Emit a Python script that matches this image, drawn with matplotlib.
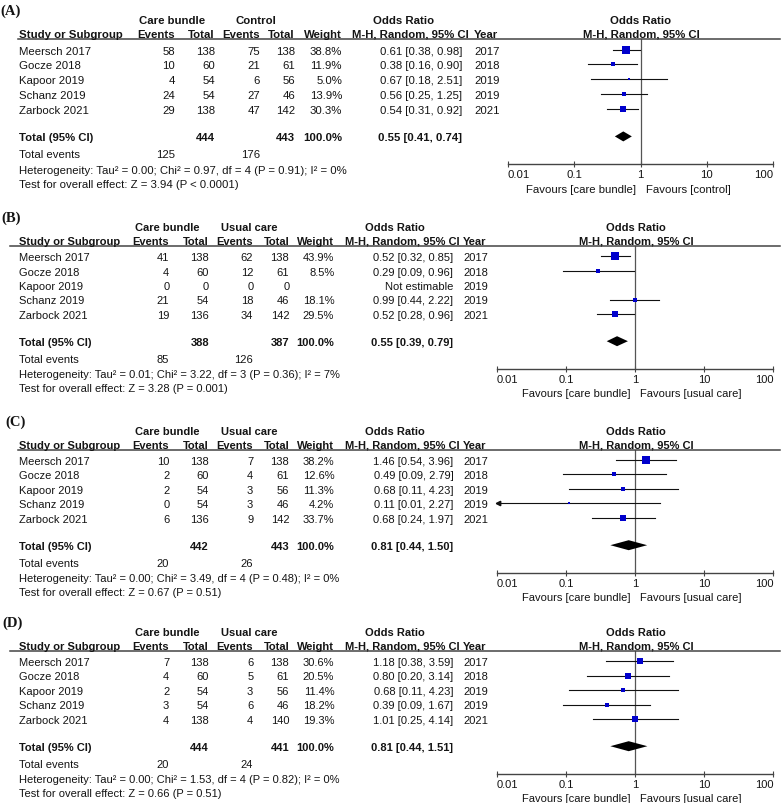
import numpy as np
import matplotlib.pyplot as plt

plt.rcParams['font.family'] = ['Liberation Sans', 'DejaVu Sans']

W, H = 784, 804

# ---- data ----
studies = ['Meersch 2017', 'Gocze 2018', 'Kapoor 2019', 'Schanz 2019', 'Zarbock 2021']
years = [2017, 2018, 2019, 2019, 2021]

# (A)
a_ev_cb = [58, 10, 4, 24, 29]
a_tot_cb = [138, 60, 54, 54, 138]
a_ev_ct = [75, 21, 6, 27, 47]
a_tot_ct = [138, 61, 56, 46, 142]
a_weight = [38.8, 11.9, 5.0, 13.9, 30.3]
a_or = [0.61, 0.38, 0.67, 0.56, 0.54]
a_lo = [0.38, 0.16, 0.18, 0.25, 0.31]
a_hi = [0.98, 0.90, 2.51, 1.25, 0.92]
a_pooled = (0.55, 0.41, 0.74)
a_totals = (444, 443, 125, 176)
a_het = 'Heterogeneity: Tau² = 0.00; Chi² = 0.97, df = 4 (P = 0.91); I² = 0%'
a_test = 'Test for overall effect: Z = 3.94 (P < 0.0001)'

# (B)
b_ev_cb = [41, 4, 0, 21, 19]
b_tot_cb = [138, 60, 0, 54, 136]
b_ev_ct = [62, 12, 0, 18, 34]
b_tot_ct = [138, 61, 0, 46, 142]
b_weight = [43.9, 8.5, None, 18.1, 29.5]
b_or = [0.52, 0.29, None, 0.99, 0.52]
b_lo = [0.32, 0.09, None, 0.44, 0.28]
b_hi = [0.85, 0.96, None, 2.22, 0.96]
b_pooled = (0.55, 0.39, 0.79)
b_totals = (388, 387, 85, 126)
b_het = 'Heterogeneity: Tau² = 0.01; Chi² = 3.22, df = 3 (P = 0.36); I² = 7%'
b_test = 'Test for overall effect: Z = 3.28 (P = 0.001)'

# (C)
c_ev_cb = [10, 2, 2, 0, 6]
c_tot_cb = [138, 60, 54, 54, 136]
c_ev_ct = [7, 4, 3, 3, 9]
c_tot_ct = [138, 61, 56, 46, 142]
c_weight = [38.2, 12.6, 11.3, 4.2, 33.7]
c_or = [1.46, 0.49, 0.68, 0.11, 0.68]
c_lo = [0.54, 0.09, 0.11, 0.01, 0.24]
c_hi = [3.96, 2.79, 4.23, 2.27, 1.97]
c_pooled = (0.81, 0.44, 1.50)
c_totals = (442, 443, 20, 26)
c_het = 'Heterogeneity: Tau² = 0.00; Chi² = 3.49, df = 4 (P = 0.48); I² = 0%'
c_test = 'Test for overall effect: Z = 0.67 (P = 0.51)'

# (D)
d_ev_cb = [7, 4, 2, 3, 4]
d_tot_cb = [138, 60, 54, 54, 138]
d_ev_ct = [6, 5, 3, 6, 4]
d_tot_ct = [138, 61, 56, 46, 140]
d_weight = [30.6, 20.5, 11.4, 18.2, 19.3]
d_or = [1.18, 0.80, 0.68, 0.39, 1.01]
d_lo = [0.38, 0.20, 0.11, 0.09, 0.25]
d_hi = [3.59, 3.14, 4.23, 1.67, 4.14]
d_pooled = (0.81, 0.44, 1.51)
d_totals = (444, 441, 20, 24)
d_het = 'Heterogeneity: Tau² = 0.00; Chi² = 1.53, df = 4 (P = 0.82); I² = 0%'
d_test = 'Test for overall effect: Z = 0.66 (P = 0.51)'

ticks = [0.01, 0.1, 1, 10, 100]
tick_labels = ['0.01', '0.1', '1', '10', '100']

TXT = '#141414'
FS = 8

fig = plt.figure(figsize=(W / 100, H / 100), dpi=100)


def panel(label, ctrl, L, s, cols, fxr, hdr, lx, labx,
          ev_cb, tot_cb, ev_ct, tot_ct, weight, ors, lo, hi, pooled, totals, het, test):
    c_st, c_ev1, c_t1, c_ev2, c_t2, c_w, c_or, c_yr = cols
    h_cb, h_ct, h_or1, h_or2, h_r = hdr
    fs = FS * s
    off = lambda d: L + d * s

    def t(x, y, txt, ha='left', bold=False):
        fig.text(x / W, 1 - y / H, txt, ha=ha, va='center_baseline', fontsize=fs,
                 color=TXT, fontweight='bold' if bold else 'normal')

    fig.text(labx / W, 1 - off(-28) / H, label, family='Liberation Serif',
             fontweight='bold', fontsize=10.5, va='center', color=TXT)

    # headers
    t(h_cb, off(-20), 'Care bundle', 'center', True)
    t(h_ct, off(-20), ctrl, 'center', True)
    t(h_or1, off(-20), 'Odds Ratio', 'center', True)
    t(h_r, off(-20), 'Odds Ratio', 'center', True)
    y2 = off(-6)
    t(c_st, y2, 'Study or Subgroup', bold=True)
    t(c_ev1, y2, 'Events', 'right', True)
    t(c_t1, y2, 'Total', 'right', True)
    t(c_ev2, y2, 'Events', 'right', True)
    t(c_t2, y2, 'Total', 'right', True)
    t(c_w, y2, 'Weight', 'right', True)
    t(h_or2, y2, 'M-H, Random, 95% CI', 'center', True)
    t(c_yr, y2, 'Year', bold=True)
    t(h_r, y2, 'M-H, Random, 95% CI', 'center', True)
    fig.add_artist(plt.Line2D([lx / W, 780 / W], [1 - L / H] * 2, color='#444444', lw=1.1))

    rows = [off(10.3 + i * 14.5) for i in range(len(studies))]
    for i, y in enumerate(rows):
        t(c_st, y, studies[i])
        t(c_ev1, y, str(ev_cb[i]), 'right')
        t(c_t1, y, str(tot_cb[i]), 'right')
        t(c_ev2, y, str(ev_ct[i]), 'right')
        t(c_t2, y, str(tot_ct[i]), 'right')
        if weight[i] is not None:
            t(c_w, y, f'{weight[i]:.1f}%', 'right')
            t(c_or, y, f'{ors[i]:.2f} [{lo[i]:.2f}, {hi[i]:.2f}]', 'right')
        else:
            t(c_or, y, 'Not estimable', 'right')
        t(c_yr, y, str(years[i]))

    yt = off(95.5)
    t(c_st, yt, 'Total (95% CI)', bold=True)
    t(c_t1, yt, str(totals[0]), 'right', True)
    t(c_t2, yt, str(totals[1]), 'right', True)
    t(c_w, yt, '100.0%', 'right', True)
    t(c_or, yt, f'{pooled[0]:.2f} [{pooled[1]:.2f}, {pooled[2]:.2f}]', 'right', True)
    t(c_st, off(112), 'Total events')
    t(c_ev1, off(112), str(totals[2]), 'right')
    t(c_ev2, off(112), str(totals[3]), 'right')
    t(c_st, off(127), het)
    t(c_st, off(141.5), test)

    # forest plot axes
    ya = off(123)
    ax = fig.add_axes([fxr[0] / W, 1 - ya / H, (fxr[1] - fxr[0]) / W, (ya - L) / H])
    ax.set_xscale('log')
    ax.set_xlim(0.01, 100)
    ax.set_ylim(ya, L)
    ax.patch.set_alpha(0)
    for sp in ['top', 'left', 'right']:
        ax.spines[sp].set_visible(False)
    ax.spines['bottom'].set_color('#444444')
    ax.spines['bottom'].set_linewidth(1)
    ax.set_yticks([])
    ax.set_xticks(ticks)
    ax.set_xticklabels(tick_labels)
    ax.minorticks_off()
    ax.tick_params(axis='x', direction='inout', length=5, width=0.8, color='#444444',
                   labelsize=fs, labelcolor=TXT, pad=1)
    labs = ax.get_xticklabels()
    labs[0].set_ha('left')
    labs[-1].set_ha('right')
    ax.axvline(1, color='#555555', lw=0.9)

    for i, y in enumerate(rows):
        if ors[i] is None:
            continue
        x0 = max(lo[i], 0.01)
        ax.plot([x0, hi[i]], [y, y], color='#111111', lw=0.8)
        if lo[i] <= 0.01:
            ax.plot(0.0105, y, marker='<', ms=3.2, color='#111111', clip_on=False)
        side = max(1.15 * np.sqrt(weight[i]), 2.6)
        ax.plot(ors[i], y, marker='s', ms=side * 0.72, color='#0000CC',
                mec='#0000CC', mew=0, zorder=3)

    p, pl, ph = pooled
    ax.fill([pl, p, ph, p], [yt, yt - 5, yt, yt + 5], color='black', lw=0, zorder=3)

    # favours captions, either side of the line of no effect
    xr = fxr[0] + (fxr[1] - fxr[0]) * 0.5
    t(xr - 5, off(146), 'Favours [care bundle]', 'right')
    t(xr + 5, off(146), f'Favours [{ctrl.lower()}]')


cols_a = [19, 175, 215, 260, 295, 342, 462, 474]
cols_b = [19, 169.3, 209, 253.3, 289.3, 334.3, 453.3, 463.3]
hdr_a = (171.7, 255.5, 404, 410, 641)
hdr_b = (167.5, 248.8, 395, 402, 636)

panel('(A)', 'Control', 40, 1.02, cols_a, (508, 773), hdr_a, 18, 0,
      a_ev_cb, a_tot_cb, a_ev_ct, a_tot_ct, a_weight, a_or, a_lo, a_hi, a_pooled, a_totals, a_het, a_test)
panel('(B)', 'Usual care', 246.7, 1.0, cols_b, (496.7, 773.3), hdr_b, 10, 1,
      b_ev_cb, b_tot_cb, b_ev_ct, b_tot_ct, b_weight, b_or, b_lo, b_hi, b_pooled, b_totals, b_het, b_test)
panel('(C)', 'Usual care', 450.7, 1.0, cols_b, (496.7, 773.3), hdr_b, 18, 5,
      c_ev_cb, c_tot_cb, c_ev_ct, c_tot_ct, c_weight, c_or, c_lo, c_hi, c_pooled, c_totals, c_het, c_test)
panel('(D)', 'Usual care', 651.7, 1.0, cols_b, (496.7, 773.3), hdr_b, 10, 2,
      d_ev_cb, d_tot_cb, d_ev_ct, d_tot_ct, d_weight, d_or, d_lo, d_hi, d_pooled, d_totals, d_het, d_test)

fig.savefig('out.png', dpi=100, facecolor='white')
